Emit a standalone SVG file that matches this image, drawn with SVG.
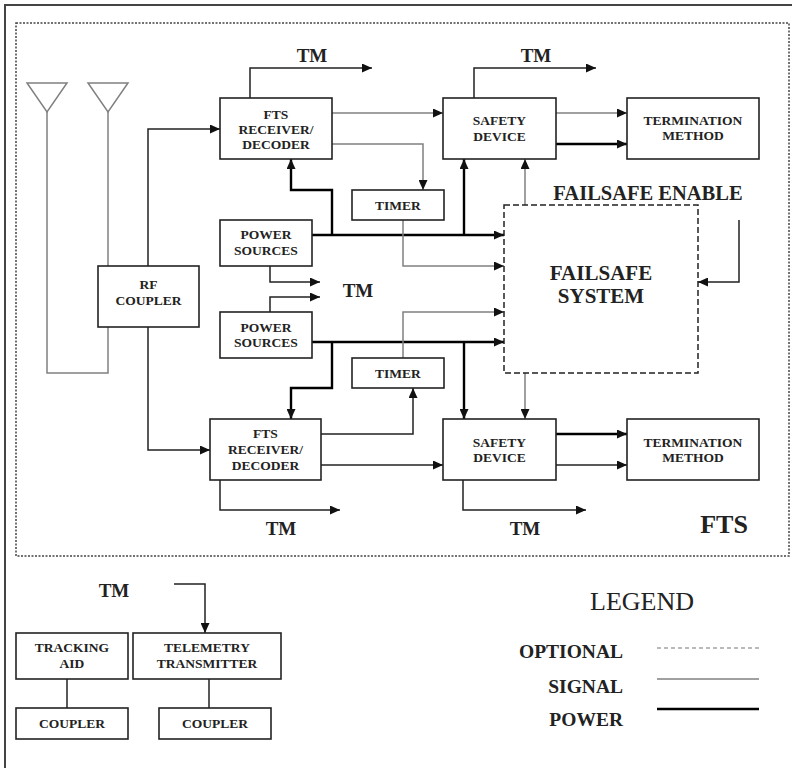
<svg xmlns="http://www.w3.org/2000/svg" width="792" height="768" viewBox="0 0 792 768">
<defs>
<marker id="ah" markerUnits="userSpaceOnUse" markerWidth="10" markerHeight="9" refX="10" refY="4.5" orient="auto">
<path d="M0,0 L10,4.5 L0,9 z" fill="#111"/>
</marker>
<style>
.box{fill:#fff;stroke:#222;stroke-width:1.6}
.t{font-family:"Liberation Serif","Times New Roman",serif;font-weight:bold;font-size:13.5px;fill:#222;text-anchor:middle}
.tm{font-family:"Liberation Serif","Times New Roman",serif;font-weight:bold;font-size:19px;fill:#222;text-anchor:middle}
.big{font-family:"Liberation Serif","Times New Roman",serif;font-weight:bold;font-size:21px;fill:#222;text-anchor:middle}
.lg{font-family:"Liberation Serif","Times New Roman",serif;font-weight:bold;font-size:19.5px;fill:#222;text-anchor:end}
.ln{fill:none;stroke:#222;stroke-width:1.5}
.sig{fill:none;stroke:#808080;stroke-width:1.5}
.pw{fill:none;stroke:#000;stroke-width:2.4}
.arr{marker-end:url(#ah)}
</style>
</defs>
<rect width="792" height="768" fill="#fff"/>
<!-- frame -->
<path d="M5,768 V5 H792" fill="none" stroke="#444" stroke-width="2"/>
<rect x="16" y="23" width="773" height="533" fill="none" stroke="#444" stroke-width="1.5" stroke-dasharray="2,1.5"/>

<g id="connectors">
<!-- antennas -->
<path class="sig" d="M27,83 H67 L47,112 Z"/>
<path class="sig" d="M88,83 H128 L108,112 Z"/>
<path class="sig" d="M47,112 V373 H108 V112"/>
<!-- RF coupler to receivers -->
<path class="ln arr" d="M148,266 V129 H220"/>
<path class="ln arr" d="M148,327 V450 H210"/>
<!-- top receiver -->
<path class="ln arr" d="M250,98 V68 H372"/>
<path class="sig arr" d="M332,113 H443"/>
<path class="sig arr" d="M332,144 H423 V190"/>
<!-- top safety -->
<path class="ln arr" d="M474,98 V68 H596"/>
<path class="sig arr" d="M556,113 H627"/>
<path class="pw arr" d="M556,144 H627"/>
<path class="sig arr" d="M525,205 V159"/>
<!-- top power -->
<path class="pw arr" d="M312,235 H504"/>
<path class="pw arr" d="M332,235 V190 H291 V159"/>
<path class="pw arr" d="M464,235 V159"/>
<path class="sig arr" d="M403,220 V266 H504"/>
<!-- failsafe enable -->
<path class="ln arr" d="M739,220 V282 H698"/>
<!-- middle TM -->
<path class="ln arr" d="M270,266 V282 H320"/>
<path class="ln arr" d="M270,312 V297 H320"/>
<!-- bottom power -->
<path class="pw arr" d="M312,342 H504"/>
<path class="pw arr" d="M332,342 V388 H291 V419"/>
<path class="pw arr" d="M464,342 V419"/>
<path class="sig arr" d="M403,358 V312 H504"/>
<!-- bottom receiver -->
<path class="ln arr" d="M321,434 H413 V388"/>
<path class="ln arr" d="M321,465 H443"/>
<path class="ln arr" d="M220,480 V510 H340"/>
<!-- bottom safety -->
<path class="sig arr" d="M525,373 V419"/>
<path class="pw arr" d="M556,434 H627"/>
<path class="ln arr" d="M556,465 H627"/>
<path class="ln arr" d="M463,480 V510 H586"/>
<!-- lower area -->
<path class="ln arr" d="M174,584 H205 V633"/>
<path class="ln" d="M67,679 V708"/>
<path class="ln" d="M209,679 V708"/>
</g>

<g id="rf-coupler"><rect class="box" x="98" y="266" width="101" height="61"/>
<text class="t" x="148.5" y="289">RF</text><text class="t" x="148.5" y="305">COUPLER</text></g>

<g id="receiver-top"><rect class="box" x="220" y="98" width="112" height="61"/>
<text class="t" x="276" y="119">FTS</text><text class="t" x="276" y="134">RECEIVER/</text><text class="t" x="276" y="149">DECODER</text></g>

<g id="safety-top"><rect class="box" x="443" y="98" width="113" height="61"/>
<text class="t" x="499.5" y="125">SAFETY</text><text class="t" x="499.5" y="141">DEVICE</text></g>

<g id="termination-top"><rect class="box" x="627" y="98" width="132" height="61"/>
<text class="t" x="693" y="125">TERMINATION</text><text class="t" x="693" y="140">METHOD</text></g>

<g id="timer-top"><rect class="box" x="352" y="190" width="92" height="30"/>
<text class="t" x="398" y="210">TIMER</text></g>

<g id="power-top"><rect class="box" x="220" y="220" width="92" height="46"/>
<text class="t" x="266" y="239">POWER</text><text class="t" x="266" y="255">SOURCES</text></g>

<g id="power-bottom"><rect class="box" x="220" y="312" width="92" height="46"/>
<text class="t" x="266" y="332">POWER</text><text class="t" x="266" y="347">SOURCES</text></g>

<g id="timer-bottom"><rect class="box" x="352" y="358" width="92" height="30"/>
<text class="t" x="398" y="378">TIMER</text></g>

<g id="failsafe"><rect x="504" y="205" width="194" height="168" fill="none" stroke="#222" stroke-width="1.5" stroke-dasharray="6,3"/>
<text class="big" x="601" y="280">FAILSAFE</text><text class="big" x="601" y="303">SYSTEM</text></g>

<g id="receiver-bottom"><rect class="box" x="210" y="419" width="111" height="61"/>
<text class="t" x="265.5" y="438">FTS</text><text class="t" x="265.5" y="454">RECEIVER/</text><text class="t" x="265.5" y="470">DECODER</text></g>

<g id="safety-bottom"><rect class="box" x="443" y="419" width="113" height="61"/>
<text class="t" x="499.5" y="447">SAFETY</text><text class="t" x="499.5" y="462">DEVICE</text></g>

<g id="termination-bottom"><rect class="box" x="627" y="419" width="132" height="61"/>
<text class="t" x="693" y="447">TERMINATION</text><text class="t" x="693" y="462">METHOD</text></g>

<g id="tracking-aid"><rect class="box" x="16" y="633" width="112" height="46"/>
<text class="t" x="72" y="652">TRACKING</text><text class="t" x="72" y="668">AID</text></g>

<g id="telemetry"><rect class="box" x="133" y="633" width="148" height="46"/>
<text class="t" x="207" y="652">TELEMETRY</text><text class="t" x="207" y="668">TRANSMITTER</text></g>

<g id="coupler-left"><rect class="box" x="16" y="708" width="112" height="31"/>
<text class="t" x="72" y="728">COUPLER</text></g>

<g id="coupler-right"><rect class="box" x="159" y="708" width="112" height="31"/>
<text class="t" x="215" y="728">COUPLER</text></g>

<g id="labels">
<text class="tm" x="312" y="62">TM</text>
<text class="tm" x="536" y="62">TM</text>
<text class="tm" x="358" y="297">TM</text>
<text class="tm" x="281" y="535">TM</text>
<text class="tm" x="525" y="535">TM</text>
<text class="tm" x="114" y="597">TM</text>
<text class="tm" x="648" y="200" style="font-size:20.5px">FAILSAFE ENABLE</text>
<text class="tm" x="724" y="533" style="font-size:26px">FTS</text>
</g>

<g id="legend">
<text x="642" y="610" style="font-family:'Liberation Serif','Times New Roman',serif;font-size:26px;fill:#222;text-anchor:middle">LEGEND</text>
<text class="lg" x="623" y="658">OPTIONAL</text>
<text class="lg" x="623" y="693">SIGNAL</text>
<text class="lg" x="623" y="726">POWER</text>
<path d="M657,648 H759" stroke="#777" stroke-width="1.2" stroke-dasharray="4,3"/>
<path class="sig" d="M657,679 H759"/>
<path class="pw" d="M657,709 H759"/>
</g>
</svg>
